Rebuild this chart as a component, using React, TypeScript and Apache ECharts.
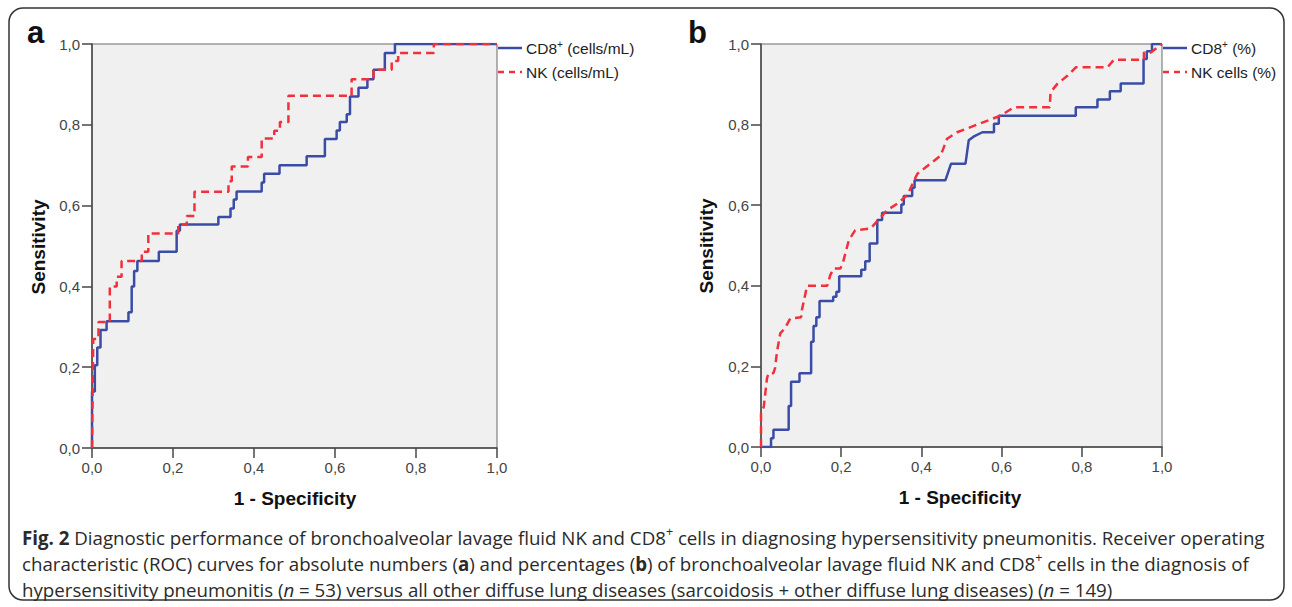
import React, { useEffect, useRef } from "react";
import * as echarts from "echarts";

// Tick labels (0..1 step 0.2)
const tickLabels = ["0,0", "0,2", "0,4", "0,6", "0,8", "1,0"];

// Panel a: absolute numbers (cells/mL) – ROC vertices (1 - specificity, sensitivity)
const aCd8Fpr = [0, 0, 0.007, 0.007, 0.013, 0.013, 0.021, 0.021, 0.036, 0.036, 0.09, 0.09, 0.098, 0.098, 0.104, 0.104, 0.112, 0.112, 0.165, 0.165, 0.209, 0.209, 0.217, 0.217, 0.312, 0.312, 0.342, 0.342, 0.35, 0.35, 0.357, 0.357, 0.419, 0.419, 0.425, 0.425, 0.463, 0.463, 0.53, 0.53, 0.575, 0.575, 0.604, 0.604, 0.612, 0.612, 0.629, 0.629, 0.637, 0.637, 0.658, 0.658, 0.68, 0.68, 0.695, 0.695, 0.723, 0.723, 0.748, 0.748, 1];
const aCd8Tpr = [0, 0.14, 0.14, 0.205, 0.205, 0.249, 0.249, 0.292, 0.292, 0.314, 0.314, 0.336, 0.336, 0.4, 0.4, 0.438, 0.438, 0.463, 0.463, 0.486, 0.486, 0.538, 0.538, 0.553, 0.553, 0.572, 0.572, 0.593, 0.593, 0.615, 0.615, 0.635, 0.635, 0.657, 0.657, 0.679, 0.679, 0.7, 0.7, 0.722, 0.722, 0.765, 0.765, 0.786, 0.786, 0.807, 0.807, 0.826, 0.826, 0.87, 0.87, 0.892, 0.892, 0.913, 0.913, 0.936, 0.936, 0.978, 0.978, 1, 1];

const aNkFpr = [0, 0.003, 0.016, 0.016, 0.044, 0.044, 0.061, 0.061, 0.073, 0.073, 0.123, 0.123, 0.139, 0.139, 0.213, 0.213, 0.234, 0.234, 0.253, 0.253, 0.337, 0.337, 0.345, 0.345, 0.385, 0.385, 0.419, 0.419, 0.45, 0.45, 0.464, 0.464, 0.485, 0.485, 0.641, 0.641, 0.695, 0.695, 0.74, 0.74, 0.756, 0.756, 0.844, 0.844, 1];
const aNkTpr = [0, 0.27, 0.27, 0.312, 0.312, 0.4, 0.4, 0.424, 0.424, 0.463, 0.463, 0.486, 0.486, 0.531, 0.531, 0.553, 0.553, 0.574, 0.574, 0.634, 0.634, 0.66, 0.66, 0.697, 0.697, 0.72, 0.72, 0.766, 0.766, 0.785, 0.785, 0.807, 0.807, 0.872, 0.872, 0.913, 0.913, 0.936, 0.936, 0.958, 0.958, 0.978, 0.978, 1, 1];

// Panel b: percentages (%)
const bCd8Fpr = [0, 0.025, 0.025, 0.031, 0.031, 0.069, 0.069, 0.075, 0.075, 0.096, 0.096, 0.125, 0.125, 0.131, 0.131, 0.138, 0.138, 0.146, 0.146, 0.18, 0.18, 0.188, 0.188, 0.195, 0.195, 0.25, 0.25, 0.26, 0.26, 0.271, 0.271, 0.29, 0.29, 0.302, 0.302, 0.35, 0.35, 0.356, 0.356, 0.377, 0.377, 0.383, 0.383, 0.46, 0.474, 0.51, 0.518, 0.53, 0.552, 0.581, 0.581, 0.593, 0.593, 0.785, 0.785, 0.839, 0.839, 0.87, 0.87, 0.897, 0.897, 0.954, 0.954, 0.962, 0.962, 0.975, 0.975, 1];
const bCd8Tpr = [0, 0, 0.022, 0.022, 0.043, 0.043, 0.102, 0.102, 0.162, 0.162, 0.183, 0.183, 0.261, 0.261, 0.3, 0.3, 0.322, 0.322, 0.362, 0.362, 0.373, 0.373, 0.385, 0.385, 0.424, 0.424, 0.44, 0.44, 0.461, 0.461, 0.505, 0.505, 0.563, 0.563, 0.581, 0.581, 0.602, 0.602, 0.623, 0.623, 0.643, 0.643, 0.662, 0.662, 0.703, 0.703, 0.761, 0.77, 0.781, 0.781, 0.802, 0.802, 0.822, 0.822, 0.843, 0.843, 0.862, 0.862, 0.883, 0.883, 0.902, 0.902, 0.963, 0.963, 0.982, 0.982, 1, 1];

const bNkFpr = [0, 0, 0.007, 0.015, 0.019, 0.031, 0.035, 0.04, 0.048, 0.06, 0.073, 0.1, 0.102, 0.115, 0.165, 0.173, 0.181, 0.198, 0.205, 0.219, 0.235, 0.273, 0.314, 0.34, 0.365, 0.381, 0.39, 0.448, 0.464, 0.489, 0.597, 0.631, 0.72, 0.722, 0.739, 0.764, 0.785, 0.864, 0.88, 0.955, 0.955, 0.972, 1];
const bNkTpr = [0, 0.084, 0.1, 0.171, 0.183, 0.183, 0.196, 0.237, 0.282, 0.295, 0.319, 0.322, 0.34, 0.4, 0.4, 0.427, 0.443, 0.443, 0.46, 0.513, 0.538, 0.542, 0.587, 0.604, 0.625, 0.66, 0.678, 0.723, 0.765, 0.781, 0.822, 0.843, 0.843, 0.88, 0.901, 0.921, 0.942, 0.942, 0.961, 0.961, 0.979, 0.979, 1];

const seriesNames = ["CD8+ (cells/mL)", "NK (cells/mL)", "CD8+ (%)", "NK cells (%)"];

const BLUE = "#3a4ca6";
const RED = "#f2303c";
const AXIS = "#474747";
const FONT = "Liberation Sans, Arial, sans-serif";
const CAP = "'Open Sans', Lato, sans-serif";
const CAP_SIZE = 18.7;

const pairs = (xs: number[], ys: number[]) => xs.map((x, i) => [x, ys[i]]);

const tickFmt = (v: number) => tickLabels[Math.round(v / 0.2)] ?? "";

function makeAxes(idx: number) {
  const common = {
    type: "value",
    min: 0,
    max: 1,
    interval: 0.2,
    gridIndex: idx,
    splitLine: { show: false },
    axisLine: { show: true, lineStyle: { color: AXIS, width: 1.5 } },
    axisTick: { show: true, length: 10, lineStyle: { color: AXIS, width: 1.5 } },
    axisLabel: {
      formatter: tickFmt,
      color: "#444",
      fontSize: 15,
      fontFamily: FONT,
    },
  };
  return {
    x: { ...common, axisLabel: { ...common.axisLabel, margin: 12 } },
    y: { ...common, axisLabel: { ...common.axisLabel, margin: 12 } },
  };
}

export default function App() {
  const ref = useRef<HTMLDivElement>(null);
  useEffect(() => {
    document.body.style.margin = "0";
    if (!ref.current) return;
    const chart = echarts.init(ref.current, null, { renderer: "svg" });
    const A = makeAxes(0);
    const B = makeAxes(1);

    const legendItem = (x: number, y: number, color: string, dashed: boolean, rich: string) => [
      {
        type: "line",
        shape: { x1: x, y1: y, x2: x + 24, y2: y },
        style: { stroke: color, lineWidth: 2.5, lineDash: dashed ? [6, 5] : null },
      },
      {
        type: "text",
        x: x + 28,
        y: y,
        style: {
          text: rich,
          fontSize: 15.5,
          fontFamily: FONT,
          fill: "#222",
          verticalAlign: "middle",
          rich: {
            n: { fontSize: 15.5, fontFamily: FONT, fill: "#222", lineHeight: 18 },
            s: { fontSize: 10, fontFamily: FONT, fill: "#222", lineHeight: 18, verticalAlign: "top" },
          },
        },
      },
    ];

    const capRich = {
      r: { fontSize: CAP_SIZE, fontFamily: CAP, fill: "#2a2a2a", lineHeight: 24 },
      b: { fontSize: CAP_SIZE, fontFamily: CAP, fill: "#2a2a2a", fontWeight: "bold", lineHeight: 24 },
      i: { fontSize: CAP_SIZE, fontFamily: CAP, fill: "#2a2a2a", fontStyle: "italic", lineHeight: 24 },
      s: { fontSize: 12.5, fontFamily: CAP, fill: "#2a2a2a", lineHeight: 24, verticalAlign: "top" },
    };
    const capLine = (y: number, text: string) => ({
      type: "text",
      x: 22,
      y,
      style: { text, rich: capRich, verticalAlign: "middle", fontSize: CAP_SIZE, fontFamily: CAP },
    });

    chart.setOption({
      animation: false,
      backgroundColor: "#ffffff",
      grid: [
        { left: 92, top: 44, width: 405, height: 404, show: true, backgroundColor: "#f0f0f0", borderColor: "#6a6a6a", borderWidth: 1 },
        { left: 761, top: 44, width: 401, height: 403, show: true, backgroundColor: "#f0f0f0", borderColor: "#6a6a6a", borderWidth: 1 },
      ],
      xAxis: [A.x, B.x],
      yAxis: [A.y, B.y],
      series: [
        { name: seriesNames[0], type: "line", xAxisIndex: 0, yAxisIndex: 0, data: pairs(aCd8Fpr, aCd8Tpr), showSymbol: false, lineStyle: { color: BLUE, width: 2.5 }, z: 3 },
        { name: seriesNames[1], type: "line", xAxisIndex: 0, yAxisIndex: 0, data: pairs(aNkFpr, aNkTpr), showSymbol: false, lineStyle: { color: RED, width: 2.5, type: [8, 5] }, z: 4 },
        { name: seriesNames[2], type: "line", xAxisIndex: 1, yAxisIndex: 1, data: pairs(bCd8Fpr, bCd8Tpr), showSymbol: false, lineStyle: { color: BLUE, width: 2.5 }, z: 3 },
        { name: seriesNames[3], type: "line", xAxisIndex: 1, yAxisIndex: 1, data: pairs(bNkFpr, bNkTpr), showSymbol: false, lineStyle: { color: RED, width: 2.5, type: [8, 5] }, z: 4 },
      ],
      graphic: [
        {
          type: "rect",
          shape: { x: 9, y: 8, width: 1275, height: 592, r: 14 },
          style: { fill: "none", stroke: "#333", lineWidth: 1.5 },
          silent: true,
        },
        { type: "text", x: 27, y: 48, style: { text: "a", fontSize: 31, fontWeight: "bold", fontFamily: FONT, fill: "#111", verticalAlign: "bottom" } },
        { type: "text", x: 688, y: 48, style: { text: "b", fontSize: 31, fontWeight: "bold", fontFamily: FONT, fill: "#111", verticalAlign: "bottom" } },
        { type: "text", x: 38, y: 247, rotation: Math.PI / 2, style: { text: "Sensitivity", fontSize: 19, fontWeight: "bold", fontFamily: FONT, fill: "#111", align: "center", verticalAlign: "middle" } },
        { type: "text", x: 706, y: 246, rotation: Math.PI / 2, style: { text: "Sensitivity", fontSize: 19, fontWeight: "bold", fontFamily: FONT, fill: "#111", align: "center", verticalAlign: "middle" } },
        { type: "text", x: 295, y: 498, style: { text: "1 - Specificity", fontSize: 19, fontWeight: "bold", fontFamily: FONT, fill: "#111", align: "center", verticalAlign: "middle" } },
        { type: "text", x: 960, y: 497, style: { text: "1 - Specificity", fontSize: 19, fontWeight: "bold", fontFamily: FONT, fill: "#111", align: "center", verticalAlign: "middle" } },
        ...legendItem(498, 48, BLUE, false, "{n|CD8}{s|+}{n| (cells/mL)}"),
        ...legendItem(498, 72, RED, true, "{n|NK (cells/mL)}"),
        ...legendItem(1163, 48, BLUE, false, "{n|CD8}{s|+}{n| (%)}"),
        ...legendItem(1163, 72, RED, true, "{n|NK cells (%)}"),
        capLine(537, "{b|Fig. 2}{r| Diagnostic performance of bronchoalveolar lavage fluid NK and CD8}{s|+}{r| cells in diagnosing hypersensitivity pneumonitis. Receiver operating}"),
        capLine(563, "{r|characteristic (ROC) curves for absolute numbers (}{b|a}{r|) and percentages (}{b|b}{r|) of bronchoalveolar lavage fluid NK and CD8}{s|+}{r| cells in the diagnosis of}"),
        capLine(589, "{r|hypersensitivity pneumonitis (}{i|n}{r| = 53) versus all other diffuse lung diseases (sarcoidosis + other diffuse lung diseases) (}{i|n}{r| = 149)}"),
      ],
    });
    return () => chart.dispose();
  }, []);
  return <div ref={ref} style={{ width: 1292, height: 607 }} />;
}
